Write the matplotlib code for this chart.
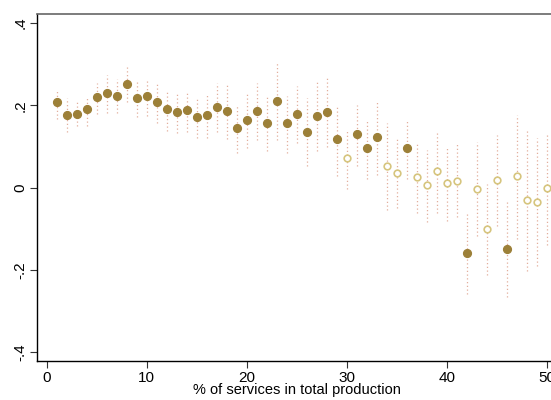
import numpy as np
from matplotlib import pyplot as plt

plt.rcParams['font.family'] = ['Liberation Sans', 'DejaVu Sans']

# share of services (x), point estimate and 95% CI bounds
share = list(range(1, 51))
coef = [0.207, 0.176, 0.180, 0.190, 0.220, 0.229, 0.224, 0.252, 0.218, 0.222,
        0.207, 0.190, 0.184, 0.188, 0.172, 0.177, 0.197, 0.186, 0.145, 0.164,
        0.187, 0.156, 0.211, 0.156, 0.178, 0.135, 0.175, 0.184, 0.118, 0.071,
        0.130, 0.096, 0.122, 0.052, 0.035, 0.096, 0.027, 0.007, 0.041, 0.012,
        0.017, -0.158, -0.002, -0.100, 0.018, -0.149, 0.028, -0.029, -0.035, 0.000]
ci_hi = [0.241, 0.217, 0.207, 0.223, 0.254, 0.274, 0.263, 0.298, 0.262, 0.263,
         0.256, 0.237, 0.232, 0.235, 0.220, 0.228, 0.254, 0.250, 0.199, 0.228,
         0.254, 0.220, 0.302, 0.223, 0.247, 0.217, 0.259, 0.271, 0.201, 0.142,
         0.201, 0.166, 0.209, 0.156, 0.120, 0.166, 0.112, 0.092, 0.138, 0.101,
         0.106, -0.062, 0.112, 0.009, 0.128, -0.030, 0.177, 0.142, 0.120, 0.134]
ci_lo = [0.166, 0.136, 0.149, 0.149, 0.180, 0.182, 0.182, 0.207, 0.171, 0.173,
         0.156, 0.138, 0.132, 0.136, 0.121, 0.120, 0.136, 0.118, 0.084, 0.097,
         0.116, 0.089, 0.115, 0.084, 0.108, 0.053, 0.089, 0.098, 0.028, -0.004,
         0.053, 0.020, 0.030, -0.054, -0.050, 0.020, -0.061, -0.083, -0.061, -0.080,
         -0.072, -0.258, -0.117, -0.212, -0.093, -0.266, -0.125, -0.202, -0.190, -0.139]

x = np.array(share)
b = np.array(coef)
lo = np.array(ci_lo)
hi = np.array(ci_hi)
sig = (lo > 0) | (hi < 0)

fig = plt.figure(figsize=(5.51, 4.0), dpi=100)
ax = fig.add_axes([37.3 / 551, 39 / 400, (557 - 37.3) / 551, (361 - 14) / 400])

# confidence intervals as dotted spikes
ax.vlines(x, lo, hi, colors='#e2ae9c', linestyles=(0, (1, 2)), linewidth=0.9, zorder=1)

# significant estimates filled, the rest hollow
ax.plot(x[sig], b[sig], 'o', ms=5.6, color='#9c8038', mec='#9c8038', zorder=3)
ax.plot(x[~sig], b[~sig], 'o', ms=4.8, mfc='white', mec='#d6c57e', mew=1.2, zorder=3)

ax.set_xlim(-0.94, 51.0)
ax.set_ylim(-0.421, 0.422)
ax.set_xticks([0, 10, 20, 30, 40, 50])
ax.set_yticks([-0.4, -0.2, 0, 0.2, 0.4])
ax.set_yticklabels(['-.4', '-.2', '0', '.2', '.4'], rotation=90, va='center')
ax.tick_params(labelsize=11, length=5, width=0.8, color='#333333', pad=2)
ax.set_xlabel('% of services in total production', fontsize=10.5, labelpad=-1)

for s in ['left', 'bottom']:
    ax.spines[s].set_color('black')
    ax.spines[s].set_linewidth(1.0)
ax.spines['top'].set_color('#666666')
ax.spines['top'].set_linewidth(1.2)
ax.spines['right'].set_visible(False)

fig.savefig('out.png', dpi=100)
